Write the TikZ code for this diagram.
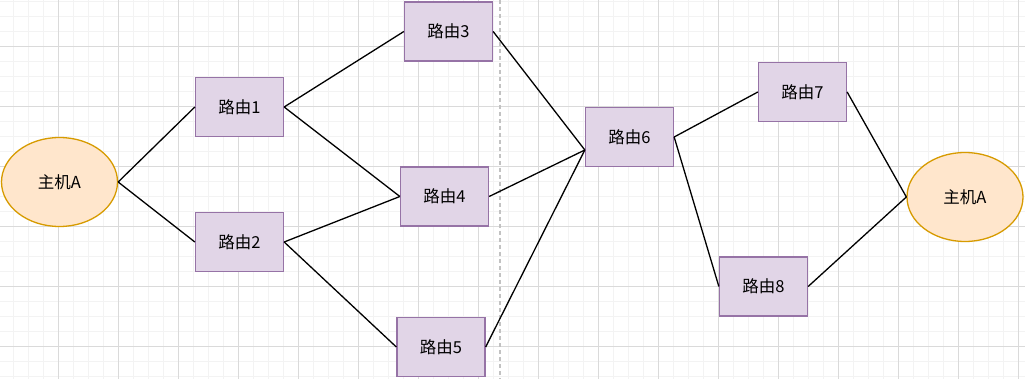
\documentclass[tikz,border=0pt]{standalone}
\usepackage{fontspec}
\newfontfamily\cjk{Noto Sans CJK SC}
\usepackage{tikz}
\usetikzlibrary{shapes.geometric}

\definecolor{routerfill}{HTML}{E1D5E7}
\definecolor{routerdraw}{HTML}{9673A6}
\definecolor{hostfill}{HTML}{FFE6CC}
\definecolor{hostdraw}{HTML}{D79B00}
\definecolor{gridminor}{HTML}{F3F3F3}
\definecolor{gridmajor}{HTML}{DADADA}
\definecolor{splitline}{HTML}{C2C2C2}

\begin{document}
\begin{tikzpicture}[
    x=1pt, y=-1pt,
    font=\cjk\fontsize{16.5}{18}\selectfont,
    router/.style={rectangle, draw=routerdraw, fill=routerfill, line width=1.3pt, inner sep=0pt, minimum width=88pt, minimum height=59pt},
    host/.style={ellipse, draw=hostdraw, fill=hostfill, line width=1.3pt, inner sep=0pt, minimum width=116pt, minimum height=89pt},
    link/.style={black, line width=1.3pt},
    minorline/.style={gridminor, line width=0.8pt},
    majorline/.style={gridmajor, line width=0.8pt},
    split/.style={splitline, line width=1.5pt, dash pattern=on 4pt off 3pt}
]
\useasboundingbox (0,0) rectangle (1025,379);
\fill[white] (0,0) rectangle (1025,379);

% background grid
\foreach \x in {13,28,...,1025} \draw[minorline] (\x,0) -- (\x,379);
\foreach \y in {1,16,...,379} \draw[minorline] (0,\y) -- (1025,\y);
\foreach \x in {58,118,...,1025} \draw[majorline] (\x,0) -- (\x,379);
\foreach \y in {46,106,...,379} \draw[majorline] (0,\y) -- (1025,\y);

\draw[split] (500,0) -- (500,379);

\node[host] (HostLeft) at (59.5,182) {主机A};
\node[router] (Router1) at (239.5,107) {路由1};
\node[router] (Router2) at (239.5,242) {路由2};
\node[router] (Router3) at (448.5,31.5) {路由3};
\node[router] (Router4) at (444.5,196.5) {路由4};
\node[router] (Router5) at (441,347) {路由5};
\node[router] (Router6) at (629.5,137) {路由6};
\node[router] (Router7) at (802.5,92) {路由7};
\node[router] (Router8) at (763.5,286.5) {路由8};
\node[host] (HostRight) at (965,197) {主机A};

\coordinate (Router6in) at ([yshift=-13pt]Router6.west);

\draw[link] (HostLeft.east) -- (Router1.west);
\draw[link] (HostLeft.east) -- (Router2.west);
\draw[link] (Router1.east) -- (Router3.west);
\draw[link] (Router1.east) -- (Router4.west);
\draw[link] (Router2.east) -- (Router4.west);
\draw[link] (Router2.east) -- (Router5.west);
\draw[link] (Router3.east) -- (Router6in);
\draw[link] (Router4.east) -- (Router6in);
\draw[link] (Router5.east) -- (Router6in);
\draw[link] (Router6.east) -- (Router7.west);
\draw[link] (Router6.east) -- (Router8.west);
\draw[link] (Router7.east) -- (HostRight.west);
\draw[link] (Router8.east) -- (HostRight.west);
\end{tikzpicture}
\end{document}
